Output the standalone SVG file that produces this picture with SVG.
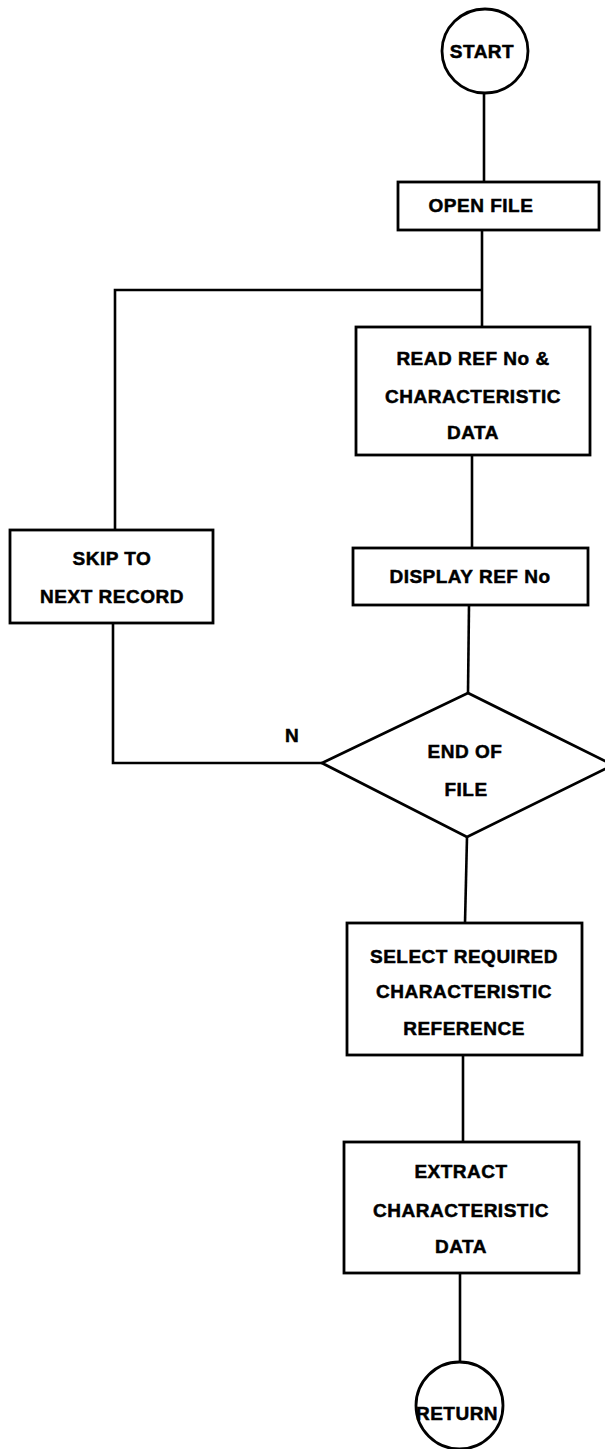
<svg xmlns="http://www.w3.org/2000/svg" width="605" height="1449" viewBox="0 0 605 1449">
  <style>
    .shape { fill: #ffffff; stroke: #000000; stroke-width: 2.8; }
    .wire { fill: none; stroke: #000000; stroke-width: 2.6; stroke-linejoin: miter; }
    text { font-family: "Liberation Sans", Arial, sans-serif; font-weight: bold; font-size: 19px; letter-spacing: 0.5px; fill: #000000; stroke: #000000; stroke-width: 0.5; text-anchor: middle; }
  </style>
  <rect width="605" height="1449" fill="#ffffff"/>

  <!-- flow lines -->
  <g id="connectors">
    <path class="wire" d="M484 93 V182"/>
    <path class="wire" d="M482 230 V327"/>
    <path class="wire" d="M482 290 H115 V530"/>
    <path class="wire" d="M113 623 V763 H322"/>
    <path class="wire" d="M472 455 V548"/>
    <path class="wire" d="M469 605 L468 693"/>
    <path class="wire" d="M467 837 L465 923"/>
    <path class="wire" d="M463 1055 V1142"/>
    <path class="wire" d="M460 1273 V1362"/>
  </g>

  <g id="start">
    <ellipse class="shape" cx="485" cy="51" rx="43" ry="42"/>
    <text x="482" y="58">START</text>
  </g>

  <g id="open-file">
    <rect class="shape" x="398" y="182" width="201" height="48"/>
    <text x="481" y="212">OPEN FILE</text>
  </g>

  <g id="read-ref">
    <rect class="shape" x="356" y="327" width="234" height="128"/>
    <text x="473" y="365">READ REF No &amp;</text>
    <text x="473" y="403">CHARACTERISTIC</text>
    <text x="473" y="439">DATA</text>
  </g>

  <g id="skip-record">
    <rect class="shape" x="10" y="530" width="203" height="93"/>
    <text x="112" y="565">SKIP TO</text>
    <text x="112" y="603">NEXT RECORD</text>
  </g>

  <g id="display-ref">
    <rect class="shape" x="353" y="548" width="235" height="57"/>
    <text x="470" y="583">DISPLAY REF No</text>
  </g>

  <g id="end-of-file">
    <polygon class="shape" points="468,693 613,765 467,837 322,763"/>
    <text x="465" y="758">END OF</text>
    <text x="466" y="796">FILE</text>
    <text x="292" y="742">N</text>
  </g>

  <g id="select-reference">
    <rect class="shape" x="347" y="923" width="235" height="132"/>
    <text x="464" y="963">SELECT REQUIRED</text>
    <text x="464" y="998">CHARACTERISTIC</text>
    <text x="464" y="1035">REFERENCE</text>
  </g>

  <g id="extract-data">
    <rect class="shape" x="344" y="1142" width="235" height="131"/>
    <text x="461" y="1178">EXTRACT</text>
    <text x="461" y="1217">CHARACTERISTIC</text>
    <text x="461" y="1253">DATA</text>
  </g>

  <g id="return">
    <ellipse class="shape" cx="459.5" cy="1405.5" rx="43.5" ry="43.5"/>
    <text x="457" y="1420">RETURN</text>
  </g>
</svg>
